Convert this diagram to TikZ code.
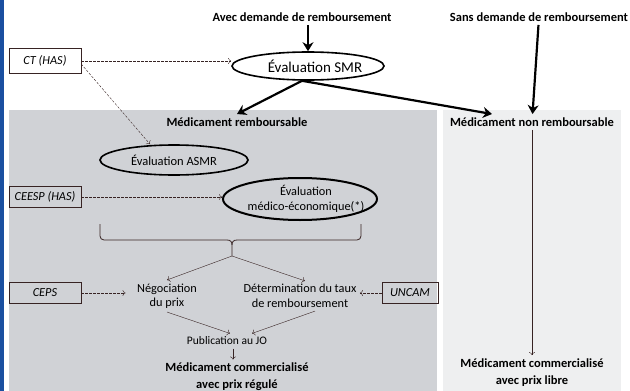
\documentclass[tikz,border=0pt]{standalone}
\usepackage{fontspec}
\setmainfont{Carlito}
\usetikzlibrary{arrows.meta,shapes.geometric}
\definecolor{bleu}{RGB}{26,79,160}
\definecolor{grisf}{RGB}{208,210,214}
\definecolor{grisc}{RGB}{238,239,240}
\definecolor{trait}{RGB}{55,35,35}
\begin{document}
\begin{tikzpicture}[x=1pt, y=-1pt, font=\fontsize{12.3}{14.5}\selectfont, >={To[length=3pt,width=6pt]},
	ell/.style={draw, ellipse, line width=1.6pt, inner sep=0pt},
	boite/.style={draw=trait, thin, minimum width=72pt, minimum height=21pt, inner sep=0pt, font=\fontsize{12.3}{14}\selectfont\itshape},
	tirets/.style={->, trait, dash pattern=on 2.5pt off 1.5pt},
	epais/.style={-{Stealth[length=9pt,width=11pt]}, line width=2.2pt},
	fin/.style={->, trait, thin},
	titre/.style={font=\fontsize{12.5}{17}\selectfont\bfseries, align=center}]
	\useasboundingbox (0,0) rectangle (630,391);
	\fill[bleu] (0,0) rectangle (4,391);
	\fill[grisf] (9,110) rectangle (437,391);
	\fill[grisc] (443,110) rectangle (621,391);
	% titres
	\node[titre] (avec) at (302,17) {Avec demande de remboursement};
	\node[titre] (sans) at (539,17) {Sans demande de remboursement};
	\node[titre] (remb) at (237,122) {Médicament remboursable};
	\node[titre] (nonremb) at (532,122) {Médicament non remboursable};
	\node[titre] (regule) at (237,377) {Médicament commercialisé\\avec prix régulé};
	\node[titre] (libre) at (532,372.5) {Médicament commercialisé\\avec prix libre};
	% evaluations
	\node[ell, minimum width=152pt, minimum height=28pt] (smr) at (308,66) {};
	\node[font=\fontsize{15}{17}\selectfont] (smrtxt) at (315,66) {Évaluation SMR};
	\node[ell, minimum width=148pt, minimum height=30pt, font=\fontsize{12.5}{15}\selectfont] (asmr) at (174,160) {Évaluation ASMR};
	\node[ell, line width=2pt, minimum width=154pt, minimum height=42pt] (eco) at (300,199) {};
	\node[align=center, font=\fontsize{12.3}{15.5}\selectfont] (ecotxt) at (306,199) {Évaluation\\médico-économique(*)};
	% acteurs
	\node[boite, minimum height=25pt] (ct) at (45,61) {CT (HAS)};
	\node[boite] (ceesp) at (45,197) {CEESP (HAS)};
	\node[boite] (ceps) at (45,293) {CEPS};
	\node[boite, minimum width=56pt] (uncam) at (410,293) {UNCAM};
	% etapes
	\node[align=center] (nego) at (167,296) {Négociation\\du prix};
	\node[align=center] (taux) at (300,296) {Détermination du taux\\de remboursement};
	\node[font=\fontsize{11.5}{14}\selectfont] (jo) at (227,341) {Publication au JO};
	% accolade
	\coordinate (acc) at (232,256);
	\draw[trait, line width=0.8pt] (100,224) -- (100,236) arc (180:90:4) -- (227,240)
		.. controls (231,240) and (232,242) .. (232,246) -- (acc)
		(361,224) -- (361,236) arc (0:90:4) -- (237,240)
		.. controls (233,240) and (232,242) .. (232,246);
	% fleches
	\draw[epais] (avec.south -| smr.north) -- (smr.north);
	\draw[epais] (sans) -- (nonremb);
	\draw[epais] ([xshift=-6pt]smr.south) -- (remb.north);
	\draw[epais] ([xshift=-6pt]smr.south) -- ([xshift=-40pt]nonremb.north);
	\draw[tirets] (ct.east) -- (ct.east -| smr.west);
	\draw[tirets] ([yshift=-3pt]ct.east) -- ([xshift=-24pt]asmr.north);
	\draw[tirets] (ceesp.east) -- (ceesp.east -| eco.west);
	\draw[tirets, shorten >=8pt] (ceps.east) -- (ceps.east -| nego.west);
	\draw[tirets] (uncam.west) -- (uncam.west -| taux.east);
	\foreach \x/\d in {nego/0, taux/5}{
		\draw[fin] (acc) -- ([xshift=\d pt]\x.north);
	}
	\draw[fin] (nego.south) -- ([xshift=3pt]jo.north);
	\draw[fin] ([xshift=15pt]taux.south) -- ([xshift=25pt]jo.north);
	\draw[fin] ([xshift=6pt]jo.south) -- ([xshift=-4pt]regule.north);
	\draw[fin] (nonremb) -- (libre);
\end{tikzpicture}
\end{document}
